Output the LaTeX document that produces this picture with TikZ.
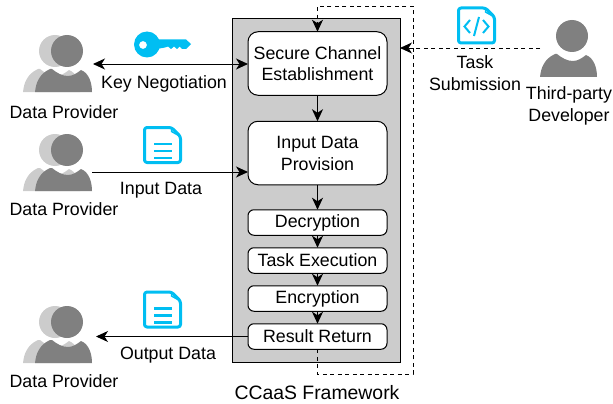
\documentclass[tikz,border=0pt]{standalone}
\usepackage{fontspec}
\setmainfont{Liberation Sans}
\usetikzlibrary{arrows.meta}
\definecolor{iconblue}{HTML}{00BEF2}
\definecolor{frontgray}{HTML}{808080}
\definecolor{backgray}{HTML}{CCCCCC}
\tikzset{
  x=1pt,y=-1pt,
  every node/.style={font=\fontsize{17.8}{22}\selectfont,align=center,inner sep=0pt,outer sep=0pt,text=black},
  procbox/.style={draw=black,line width=1pt,fill=white,rounded corners=6pt,minimum width=139pt,anchor=center},
  bigbox/.style={procbox,rounded corners=10pt,minimum height=63.5pt},
  smallbox/.style={procbox,minimum height=25.5pt},
  frame/.style={draw=black,line width=1pt,fill=backgray},
  arrow/.style={line width=0.95pt,-{Stealth[length=12pt,width=11pt,inset=3.5pt]}},
  biarrow/.style={line width=0.95pt,{Stealth[length=12pt,width=11pt,inset=3.5pt]}-{Stealth[length=12pt,width=11pt,inset=3.5pt]}},
  flow/.style={line width=1.6pt,-{Stealth[length=12pt,width=11pt,inset=3.5pt]}},
  dasharrow/.style={line width=0.95pt,dash pattern=on 4pt off 3.5pt,-{Stealth[length=12pt,width=11pt,inset=3.5pt]}},
  person/.pic={
    \fill[#1] (0,0) circle[radius=16];
    \fill[#1] (-32,41) .. controls (-31,32) and (-28,23) .. (-17,18)
      -- (-15,18) .. controls (-10,22) and (-5,25) .. (1,25)
      .. controls (6,25) and (10,22) .. (14,19)
      .. controls (22,22) and (25,32) .. (25,41) -- cycle;
  },
  person/.default=frontgray,
  docicon/.pic={
    \draw[iconblue,line width=3pt,line join=round,rounded corners=2.5pt] (0,0) -- (27,0) -- (36,9) -- (36,35) -- (0,35) -- cycle;
    \draw[iconblue,line width=1.5pt] (27,0) -- (27,4) -- (36,9);
  },
  doclines/.pic={
    \foreach \yy in {0,7,14}{\fill[iconblue] (0,\yy-1.4) rectangle (18,\yy+1.4);}
  }
}
\begin{document}
\begin{tikzpicture}
\useasboundingbox (0,0) rectangle (613,404);
% frame
\draw[frame] (232,19) rectangle (400,362);
\coordinate (frameR) at (400,48);
% boxes
\node[bigbox] (sc) at (317.5,63.5) {\raisebox{-1pt}{Secure Channel}\\Establishment};
\node[bigbox] (idp) at (317.5,153) {Input Data\\Provision};
\node[smallbox] (dec) at (317.5,222.5) {Decryption};
\node[smallbox] (task) at (317.5,260.5) {Task Execution};
\node[smallbox] (enc) at (317.5,298.5) {Encryption};
\node[smallbox] (res) at (317.5,336.5) {Result Return};
\draw[flow] (sc) -- (idp);
\draw[flow] (idp) -- (dec);
\draw[flow] (dec) -- (task);
\draw[flow] (task) -- (enc);
\draw[flow] (enc) -- (res);
% persons
\pic at (55,51) {person=backgray};
\pic at (67,51) {person=frontgray};
\pic at (55,150) {person=backgray};
\pic at (67,150) {person=frontgray};
\pic at (55,322) {person=backgray};
\pic at (67,322) {person=frontgray};
\pic at (572,36) {person=frontgray};
\coordinate (p1) at (93,64);
\coordinate (p2) at (92,172);
\coordinate (p3) at (96,336.5);
\coordinate (dev) at (540,48);
\coordinate (sc1) at (248,64);
\coordinate (idp1) at (248,172);
% labels
\node (l1) at (64,112) {Data Provider};
\node (l2) at (64,209) {Data Provider};
\node (l3) at (64,381) {Data Provider};
\node (kn) at (164,84) {Key Negotiation};
\node (idl) at (161,190) {Input Data};
\node (odl) at (168,355) {Output Data};
\node (ts) at (475,73) {Task\\Submission};
\node (tp) at (569,106) {Third-party\\Developer};
\node[font=\fontsize{19.4}{22}\selectfont] (cc) at (317,393) {CCaaS Framework};
% connectors
\draw[biarrow] (p1) -- (sc1);
\draw[arrow] (p2) -- (idp1);
\draw[arrow] (res.west) -- (p3);
\draw[dasharrow] (dev) -- (frameR);
\draw[dasharrow] (res.south) -- (317.5,374) -- (413,374) -- (413,6) -- (317.5,6) -- (sc.north);
% key
\fill[iconblue,even odd rule] (147,44.5) circle[radius=13] (143,45) circle[radius=4];
\fill[iconblue] (157,39.5) -- (186,39.5) -- (191,44) -- (186,49) -- (182,49) -- (179.5,46.5) -- (177,49) -- (174,46.5) -- (171,49) -- (168,46.5) -- (165,47.5) -- (157,49) -- cycle;
% docs
\pic at (144.5,127.5) {docicon};
\pic at (153.5,144) {doclines};
\pic at (144.5,292) {docicon};
\pic at (153.5,308.5) {doclines};
\pic at (458.5,8) {docicon};
\draw[iconblue,line width=2pt] (470,20) -- (464.5,26.5) -- (470,33);
\draw[iconblue,line width=2pt] (483,20) -- (488.5,26.5) -- (483,33);
\draw[iconblue,line width=2pt] (479,17) -- (474,36);
\end{tikzpicture}
\end{document}
